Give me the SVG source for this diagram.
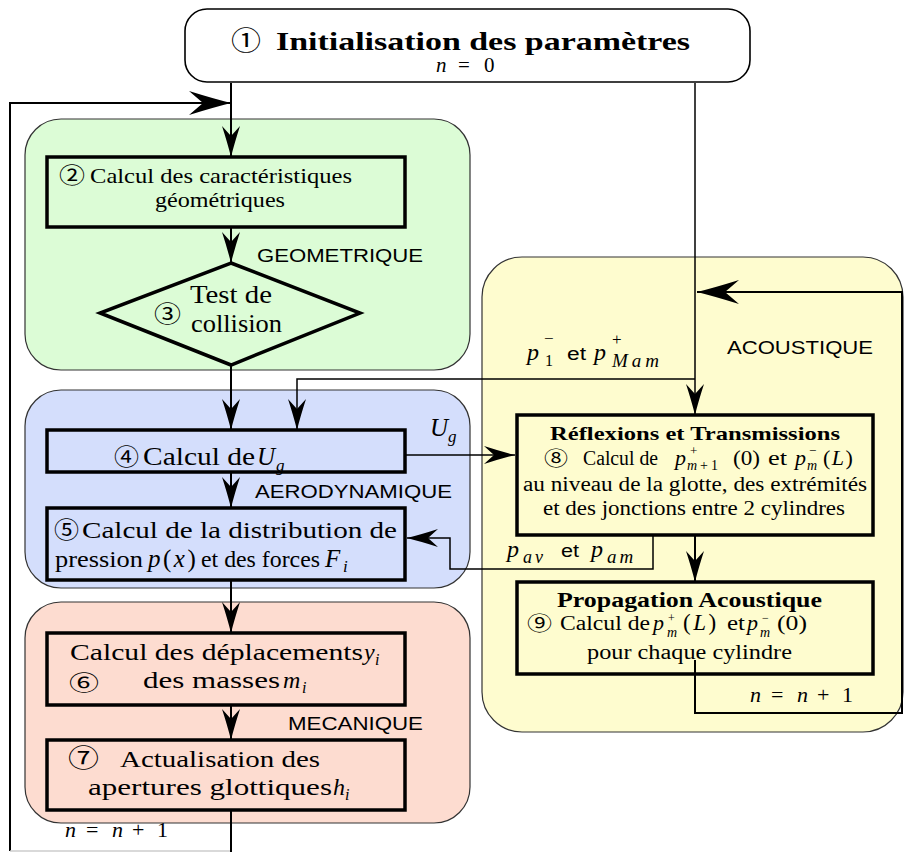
<svg xmlns="http://www.w3.org/2000/svg" width="904" height="852" viewBox="0 0 904 852">
<style>
text{font-family:"Liberation Serif","DejaVu Serif",serif;fill:#000}
.i{font-style:italic}
.b{font-weight:bold}
.s{font-family:"Liberation Sans",Arial,sans-serif}
.n{font-family:"Noto Sans CJK JP","DejaVu Sans",sans-serif;font-weight:normal}
.box{fill:none;stroke:#000;stroke-width:3.5}
.reg{stroke:#333;stroke-width:1.2}
.c{fill:none;stroke:#000;stroke-width:2}
.ct{fill:none;stroke:#000;stroke-width:1.5}
</style>
<defs>
<marker id="ah" viewBox="-33 -10 34 20" refX="0" refY="0" markerWidth="34" markerHeight="20" markerUnits="userSpaceOnUse" orient="auto"><path d="M0,0 Q-14,-3.5 -31,-9 L-21,0 L-31,9 Q-14,3.5 0,0 Z" fill="#000"/></marker>
<marker id="ab" viewBox="-44 -13 45 26" refX="0" refY="0" markerWidth="45" markerHeight="26" markerUnits="userSpaceOnUse" orient="auto"><path d="M0,0 Q-18,-4.5 -42,-12 L-28,0 L-42,12 Q-18,4.5 0,0 Z" fill="#000"/></marker>
</defs>
<rect width="904" height="852" fill="#fff"/>

<g id="region-geometrique">
<rect class="reg" x="25" y="119" width="445" height="251" rx="36" fill="#dcfcd6"/>
<text class="s" x="257" y="262" font-size="19" textLength="166" lengthAdjust="spacingAndGlyphs">GEOMETRIQUE</text>
</g>
<g id="region-aerodynamique">
<rect class="reg" x="25" y="390" width="445" height="198" rx="36" fill="#d4defc"/>
<text class="s" x="255" y="498" font-size="19" textLength="197" lengthAdjust="spacingAndGlyphs">AERODYNAMIQUE</text>
</g>
<g id="region-mecanique">
<rect class="reg" x="25" y="602" width="445" height="221" rx="36" fill="#fddcd0"/>
<text class="s" x="288" y="730" font-size="19" textLength="135" lengthAdjust="spacingAndGlyphs">MECANIQUE</text>
</g>
<g id="region-acoustique">
<rect class="reg" x="482" y="257" width="421" height="475" rx="40" fill="#fefccf"/>
<text class="s" x="727" y="354" font-size="19" textLength="146" lengthAdjust="spacingAndGlyphs">ACOUSTIQUE</text>
</g>

<g id="connectors">
<path class="c" d="M231,83 V157" marker-end="url(#ah)"/>
<path class="c" d="M10,851 V103 H231" marker-end="url(#ab)"/>
<path d="M10,851 H231" fill="none" stroke="#ccc" stroke-width="1.5"/>
<path class="c" d="M231,227 V263" marker-end="url(#ah)"/>
<path class="c" d="M231,365 V430" marker-end="url(#ah)"/>
<path class="c" d="M231,472 V508" marker-end="url(#ah)"/>
<path class="c" d="M231,580 V633" marker-end="url(#ah)"/>
<path class="c" d="M231,705 V740" marker-end="url(#ah)"/>
<path class="c" d="M231,810 V852"/>
<path class="ct" d="M695,83 V415" marker-end="url(#ah)"/>
<path class="ct" d="M695,379 H297 V430" marker-end="url(#ah)"/>
<path class="ct" d="M405,455 H515" marker-end="url(#ah)"/>
<path class="ct" d="M653,535 V569 H450 V538 H407" marker-end="url(#ah)"/>
<path class="c" d="M695,535 V582" marker-end="url(#ah)"/>
<path class="c" d="M695,660 V713 H902 V292 H697" marker-end="url(#ab)"/>
<text font-size="25"><tspan x="430" y="436" class="i">U</tspan><tspan x="448" y="442" class="i" font-size="17">g</tspan></text>
<text font-size="24"><tspan x="527" y="360" class="i">p</tspan><tspan x="544" y="344" font-size="17">−</tspan><tspan x="545" y="366" font-size="16">1</tspan></text>
<text class="s" x="567" y="360" font-size="18" textLength="19" lengthAdjust="spacingAndGlyphs">et</text>
<text font-size="24"><tspan x="594" y="360" class="i">p</tspan><tspan x="612" y="345" font-size="17">+</tspan></text>
<text x="612" y="367" font-size="19" class="i" letter-spacing="4">Mam</text>
<text font-size="24"><tspan x="507" y="557" class="i">p</tspan><tspan x="523" y="563" class="i" font-size="18" letter-spacing="3">av</tspan></text>
<text class="s" x="561" y="557" font-size="18" textLength="18" lengthAdjust="spacingAndGlyphs">et</text>
<text font-size="24"><tspan x="591" y="557" class="i">p</tspan><tspan x="607" y="563" class="i" font-size="19" letter-spacing="3">am</tspan></text>
<text font-size="22" y="837"><tspan x="65" class="i">n</tspan><tspan x="86">=</tspan><tspan x="112" class="i">n</tspan><tspan x="132">+</tspan><tspan x="157">1</tspan></text>
<text font-size="22" y="702"><tspan x="750" class="i">n</tspan><tspan x="771">=</tspan><tspan x="797" class="i">n</tspan><tspan x="817">+</tspan><tspan x="842">1</tspan></text>
</g>

<g id="n1-init">
<rect x="185" y="9" width="565" height="73" rx="22" fill="#fff" stroke="#000" stroke-width="1.6"/>
<text class="n" x="231" y="50" font-size="26" textLength="30" lengthAdjust="spacingAndGlyphs">①</text>
<text class="b" x="276" y="50" font-size="25" textLength="414" lengthAdjust="spacingAndGlyphs">Initialisation des paramètres</text>
<text y="72" font-size="21"><tspan x="436" class="i">n</tspan><tspan x="458">=</tspan><tspan x="484">0</tspan></text>
</g>

<g id="n2-geometrie">
<rect class="box" x="47" y="157" width="358" height="70"/>
<text class="n" x="59" y="183" font-size="22" textLength="26" lengthAdjust="spacingAndGlyphs">②</text>
<text x="90" y="183" font-size="21" textLength="262" lengthAdjust="spacingAndGlyphs">Calcul des caractéristiques</text>
<text x="155" y="207" font-size="21" textLength="130" lengthAdjust="spacingAndGlyphs">géométriques</text>
</g>

<g id="n3-collision">
<polygon class="box" points="231,263 360,313 231,365 100,313"/>
<text class="n" x="154" y="322" font-size="23" textLength="27" lengthAdjust="spacingAndGlyphs">③</text>
<text x="190" y="303" font-size="25" textLength="82" lengthAdjust="spacingAndGlyphs">Test de</text>
<text x="191" y="332" font-size="25" textLength="91" lengthAdjust="spacingAndGlyphs">collision</text>
</g>

<g id="n4-ug">
<rect class="box" x="47" y="430" width="358" height="42"/>
<text class="n" x="114" y="465" font-size="23" textLength="25" lengthAdjust="spacingAndGlyphs">④</text>
<text x="143" y="465" font-size="25" textLength="112" lengthAdjust="spacingAndGlyphs">Calcul de</text>
<text font-size="25"><tspan x="257" y="465" class="i">U</tspan><tspan x="276" y="471" class="i" font-size="17">g</tspan></text>
</g>

<g id="n5-pression">
<rect class="box" x="47" y="508" width="358" height="72"/>
<text class="n" x="54" y="538" font-size="23" textLength="25" lengthAdjust="spacingAndGlyphs">⑤</text>
<text x="82" y="538" font-size="24" textLength="315" lengthAdjust="spacingAndGlyphs">Calcul de la distribution de</text>
<text x="55" y="567" font-size="24" textLength="88" lengthAdjust="spacingAndGlyphs">pression</text>
<text x="148" y="567" font-size="25" letter-spacing="2.5"><tspan class="i">p</tspan>(<tspan class="i">x</tspan>)</text>
<text x="201" y="567" font-size="24" textLength="119" lengthAdjust="spacingAndGlyphs">et des forces</text>
<text font-size="25"><tspan x="325" y="567" class="i">F</tspan><tspan x="343" y="572" class="i" font-size="17">i</tspan></text>
</g>

<g id="n6-deplacements">
<rect class="box" x="47" y="633" width="358" height="72"/>
<text x="70" y="660" font-size="24" textLength="293" lengthAdjust="spacingAndGlyphs">Calcul des déplacements</text>
<text font-size="24"><tspan x="364" y="660" class="i">y</tspan><tspan x="375" y="665" class="i" font-size="16">i</tspan></text>
<text class="n" x="69" y="690" font-size="21" textLength="30" lengthAdjust="spacingAndGlyphs">⑥</text>
<text x="143" y="688" font-size="24" textLength="137" lengthAdjust="spacingAndGlyphs">des masses</text>
<text font-size="24"><tspan x="283" y="688" class="i">m</tspan><tspan x="302" y="693" class="i" font-size="16">i</tspan></text>
</g>

<g id="n7-apertures">
<rect class="box" x="47" y="740" width="358" height="70"/>
<text class="n" x="68" y="767" font-size="25" textLength="31" lengthAdjust="spacingAndGlyphs">⑦</text>
<text x="120" y="767" font-size="24" textLength="200" lengthAdjust="spacingAndGlyphs">Actualisation des</text>
<text x="88" y="795" font-size="24" textLength="244" lengthAdjust="spacingAndGlyphs">apertures glottiques</text>
<text font-size="24"><tspan x="333" y="795" class="i">h</tspan><tspan x="345" y="800" class="i" font-size="16">i</tspan></text>
</g>

<g id="n8-reflexions">
<rect class="box" x="517" y="415" width="356" height="120" fill="#fefccf"/>
<text class="b" x="550" y="440" font-size="19" textLength="290" lengthAdjust="spacingAndGlyphs">Réflexions et Transmissions</text>
<text class="n" x="544" y="466" font-size="20" textLength="24" lengthAdjust="spacingAndGlyphs">⑧</text>
<text x="583" y="465" font-size="20" textLength="75" lengthAdjust="spacingAndGlyphs">Calcul de</text>
<text font-size="22"><tspan x="675" y="465" class="i">p</tspan><tspan x="690" y="455" font-size="13">+</tspan><tspan x="687" y="470" font-size="14" class="i">m</tspan><tspan x="700" y="470" font-size="14" letter-spacing="3">+1</tspan></text>
<text x="733" y="465" font-size="21" textLength="27" lengthAdjust="spacingAndGlyphs">(0)</text>
<text x="768" y="465" font-size="20" textLength="19" lengthAdjust="spacingAndGlyphs">et</text>
<text font-size="22"><tspan x="795" y="465" class="i">p</tspan><tspan x="809" y="455" font-size="13">−</tspan><tspan x="807" y="470" font-size="14" class="i">m</tspan></text>
<text x="823" y="465" font-size="22" letter-spacing="1.5">(<tspan class="i">L</tspan>)</text>
<text x="523" y="491" font-size="20" textLength="344" lengthAdjust="spacingAndGlyphs">au niveau de la glotte, des extrémités</text>
<text x="543" y="515" font-size="20" textLength="302" lengthAdjust="spacingAndGlyphs">et des jonctions entre 2 cylindres</text>
</g>

<g id="n9-propagation">
<rect class="box" x="517" y="582" width="356" height="92" fill="#fefccf"/>
<text class="b" x="557" y="607" font-size="20" textLength="265" lengthAdjust="spacingAndGlyphs">Propagation Acoustique</text>
<text class="n" x="527" y="631" font-size="20" textLength="25" lengthAdjust="spacingAndGlyphs">⑨</text>
<text x="560" y="630" font-size="20" textLength="90" lengthAdjust="spacingAndGlyphs">Calcul de</text>
<text font-size="22"><tspan x="653" y="630" class="i">p</tspan><tspan x="668" y="622" font-size="12">+</tspan><tspan x="667" y="637" font-size="14" class="i">m</tspan></text>
<text x="683" y="630" font-size="23" letter-spacing="2.5">(<tspan class="i">L</tspan>)</text>
<text x="727" y="630" font-size="20" textLength="18" lengthAdjust="spacingAndGlyphs">et</text>
<text font-size="22"><tspan x="747" y="630" class="i">p</tspan><tspan x="762" y="622" font-size="12">−</tspan><tspan x="760" y="637" font-size="14" class="i">m</tspan></text>
<text x="777" y="630" font-size="22" textLength="30" lengthAdjust="spacingAndGlyphs">(0)</text>
<text x="587" y="659" font-size="20" textLength="205" lengthAdjust="spacingAndGlyphs">pour chaque cylindre</text>
</g>
</svg>
